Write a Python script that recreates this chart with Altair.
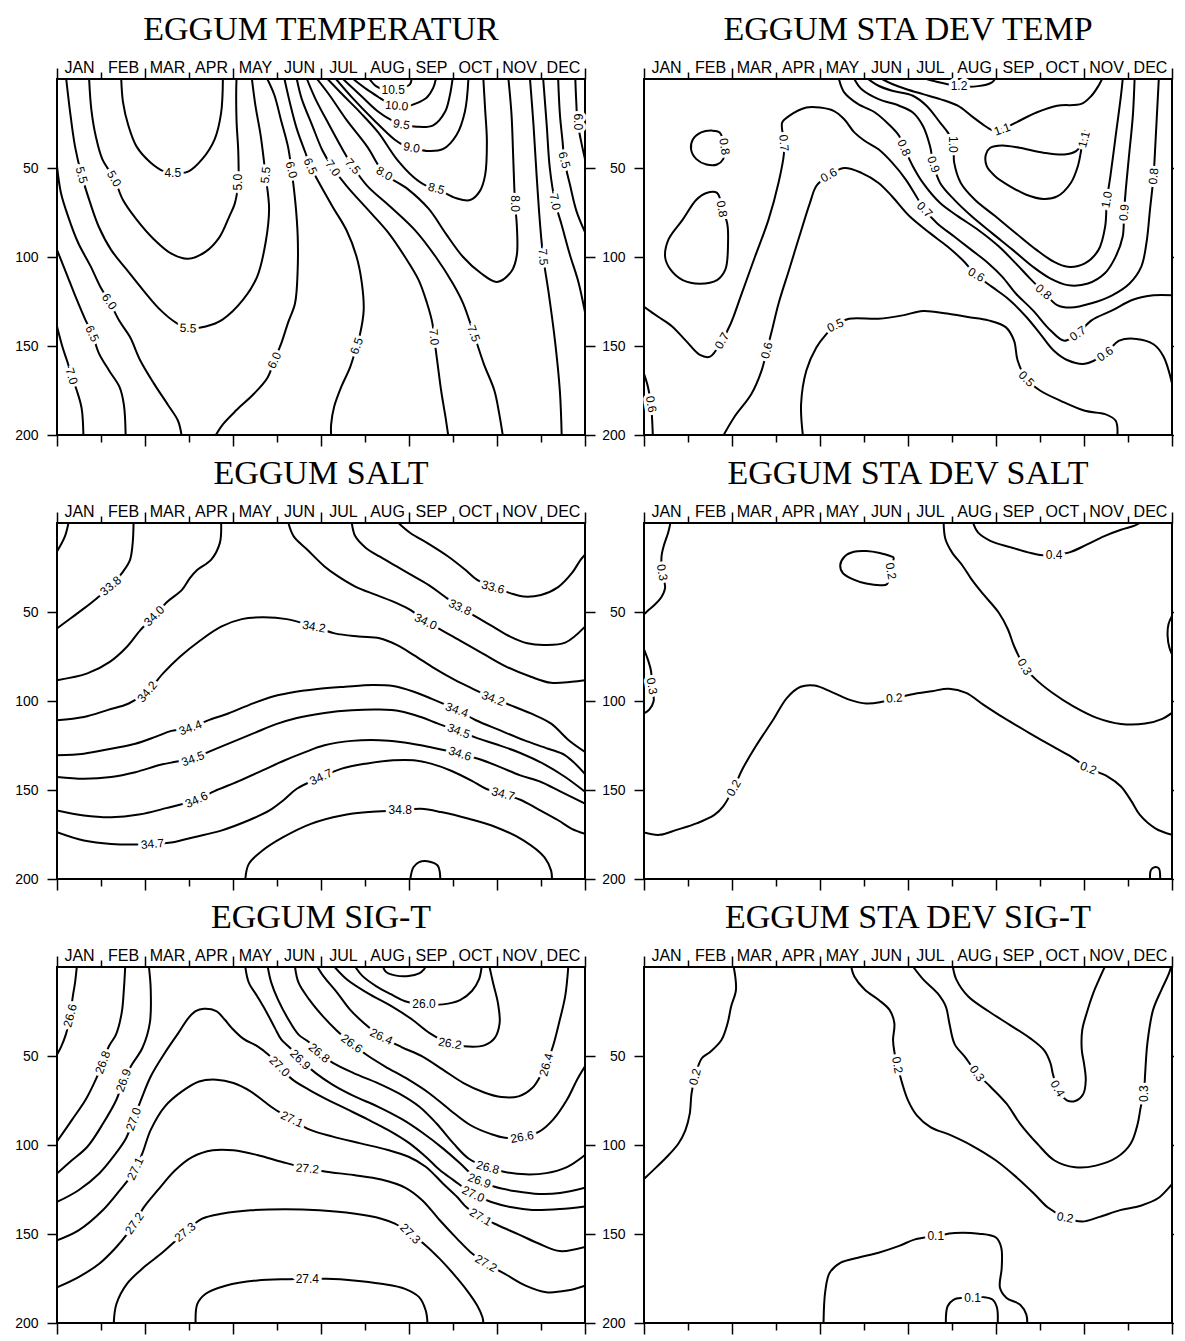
import altair as alt
import pandas as pd

MONTHS = ["JAN", "FEB", "MAR", "APR", "MAY", "JUN", "JUL", "AUG", "SEP", "OCT", "NOV", "DEC"]
DEPTH_TICKS = [50, 100, 150, 200]

# ---------------- EGGUM TEMPERATUR ----------------
TEMP_TITLE = "EGGUM TEMPERATUR"
TEMP_LINES = [
    ("7.0", [(0, 139), (0.13, 151), (0.25, 160), (0.33, 167), (0.45, 175), (0.56, 185), (0.6, 200)]),
    ("6.5", [(0, 96), (0.21, 109), (0.45, 124), (0.64, 135), (0.8, 143), (0.95, 154), (1.19, 164), (1.42, 173), (1.52, 183), (1.56, 200)]),
    ("6.0", [(0, 49), (0.09, 64), (0.25, 77), (0.48, 92), (0.76, 105), (0.99, 117), (1.19, 125), (1.42, 136), (1.66, 145), (1.89, 158), (2.2, 171), (2.52, 183), (2.75, 192), (2.83, 200)]),
    ("5.5", [(0.21, 0), (0.29, 17), (0.41, 38), (0.56, 54), (0.76, 70), (0.95, 83), (1.23, 96), (1.58, 107), (1.97, 119), (2.36, 130), (2.71, 137), (2.98, 140), (3.38, 139), (3.77, 135), (4.23, 124), (4.55, 111), (4.74, 92), (4.82, 73), (4.74, 54), (4.63, 32), (4.51, 15), (4.43, 0)]),
    ("5.0", [(0.73, 0), (0.78, 17), (0.88, 32), (1.03, 45), (1.3, 56), (1.5, 68), (1.81, 79), (2.2, 90), (2.59, 98), (2.98, 101), (3.38, 97), (3.69, 89), (3.92, 77), (4.04, 70), (4.12, 58), (4.12, 41), (4.08, 23), (4.08, 0)]),
    ("4.5", [(1.46, 0), (1.5, 13), (1.62, 26), (1.81, 38), (2.13, 47), (2.44, 52), (2.63, 53), (2.98, 52), (3.3, 45), (3.58, 34), (3.73, 19), (3.77, 0)]),
    ("6.0", [(3.61, 200), (3.77, 194), (4.08, 186), (4.47, 177), (4.78, 168), (4.94, 158), (5.09, 149), (5.25, 137), (5.41, 126), (5.47, 107), (5.47, 88), (5.42, 70), (5.33, 51), (5.25, 38), (5.09, 23), (4.94, 9), (4.78, 0)]),
    ("6.5", [(5.17, 0), (5.29, 13), (5.45, 28), (5.64, 41), (5.76, 49), (5.95, 58), (6.27, 72), (6.58, 85), (6.81, 100), (6.93, 115), (6.97, 130), (6.89, 143), (6.81, 150), (6.66, 162), (6.46, 173), (6.3, 184), (6.23, 194), (6.23, 200)]),
    ("7.0", [(5.45, 0), (5.56, 11), (5.8, 26), (6.03, 40), (6.27, 50), (6.58, 60), (7.05, 73), (7.52, 86), (7.91, 100), (8.22, 113), (8.41, 126), (8.53, 137), (8.57, 145), (8.65, 160), (8.73, 175), (8.83, 190), (8.89, 200)]),
    ("7.5", [(5.68, 0), (5.87, 11), (6.19, 26), (6.5, 40), (6.72, 49), (7.05, 60), (7.59, 72), (8.14, 85), (8.61, 100), (9.0, 115), (9.23, 126), (9.47, 143), (9.7, 160), (9.94, 175), (10.05, 188), (10.13, 200)]),
    ("8.0", [(5.91, 0), (6.19, 9), (6.58, 23), (7.05, 38), (7.44, 53), (7.98, 62), (8.45, 73), (8.84, 87), (9.23, 100), (9.63, 109), (10.0, 114), (10.33, 108), (10.45, 99), (10.45, 82), (10.41, 70), (10.37, 45), (10.33, 20), (10.26, 0)]),
    ("8.5", [(6.15, 0), (6.5, 9), (6.9, 19), (7.3, 30), (7.72, 45), (8.1, 55), (8.4, 60), (8.62, 61.5), (9.08, 67), (9.39, 68), (9.61, 63), (9.73, 54), (9.77, 35), (9.73, 17), (9.69, 0)]),
    ("9.0", [(6.34, 0), (6.73, 11), (7.2, 23), (7.67, 34), (7.9, 37.5), (8.06, 38.5), (8.4, 40.4), (8.78, 39.3), (9.08, 31.5), (9.27, 18.4), (9.35, 0)]),
    ("9.5", [(6.5, 0), (6.89, 9), (7.28, 18), (7.59, 23), (7.83, 25.5), (8.17, 26.8), (8.55, 26), (8.82, 18.4), (8.93, 9), (8.99, 0)]),
    ("10.0", [(6.73, 0), (7.05, 6), (7.36, 11), (7.55, 14), (7.72, 15.5), (7.95, 15.5), (8.11, 14.2), (8.4, 10.5), (8.55, 5), (8.61, 0)]),
    ("10.5", [(7.1, 0), (7.25, 4), (7.45, 6), (7.64, 6.2), (7.85, 5), (8.02, 3), (8.06, 0)]),
    ("7.5", [(10.75, 0), (10.83, 26), (10.9, 54), (10.98, 82), (11.05, 100), (11.17, 119.5), (11.32, 147.6), (11.43, 175.7), (11.47, 200)]),
    ("7.0", [(11.05, 0), (11.13, 26), (11.2, 50), (11.32, 69), (11.47, 82), (11.66, 99), (11.85, 114), (12, 131)]),
    ("6.5", [(11.39, 0), (11.43, 20), (11.49, 35), (11.53, 45.5), (11.66, 59.6), (11.81, 74.5), (12, 86)]),
    ("6.0", [(11.78, 0), (11.8, 12), (11.83, 24), (11.92, 36), (12, 45)]),
]
TEMP_LABELS = [
    ("7.0", 0.33, 167, 72), ("6.5", 0.8, 143, 65), ("6.0", 1.19, 125, 55),
    ("5.5", 0.56, 54, 75), ("5.0", 1.3, 56, 60), ("4.5", 2.63, 53, 0),
    ("5.5", 2.98, 140, 3), ("6.0", 4.94, 158, 295), ("5.0", 4.12, 58, 270),
    ("5.5", 4.74, 54, 275), ("6.0", 5.33, 51, 75), ("6.5", 5.76, 49, 65),
    ("7.0", 6.27, 50, 55), ("7.5", 6.72, 49, 50), ("8.0", 7.44, 53, 30),
    ("8.5", 8.62, 61.5, 15), ("9.0", 8.06, 38.5, 10), ("9.5", 7.83, 25.5, 10),
    ("10.0", 7.72, 15, 5), ("10.5", 7.64, 6, 0), ("6.5", 6.81, 150, 290),
    ("7.0", 8.57, 145, 85), ("7.5", 9.47, 143, 70), ("8.0", 10.41, 70, 90),
    ("7.5", 11.05, 100, 85), ("7.0", 11.32, 69, 78), ("6.5", 11.53, 45.5, 75),
    ("6.0", 11.83, 24, 90),
]

# ---------------- EGGUM STA DEV TEMP ----------------
SDT_TITLE = "EGGUM STA DEV TEMP"
SDT_LINES = [
    ("0.8", [(1.83, 38), (1.8, 45), (1.66, 48), (1.42, 48), (1.19, 45), (1.07, 39.5), (1.11, 34), (1.3, 30), (1.54, 29), (1.72, 30), (1.83, 38)]),
    ("0.8", [(1.77, 73), (1.66, 64), (1.42, 64), (1.19, 67.8), (0.88, 79), (0.56, 90), (0.48, 100), (0.6, 107), (0.88, 113), (1.27, 115), (1.66, 113), (1.85, 107), (1.91, 92), (1.89, 81), (1.77, 73)]),
    ("0.7", [(0, 128), (0.33, 133.7), (0.64, 139), (0.95, 147), (1.27, 155), (1.5, 156), (1.77, 147), (1.97, 137.5), (2.2, 122), (2.52, 100), (2.83, 79), (3.06, 58), (3.18, 42), (3.18, 35), (3.14, 24.5), (3.3, 20.7), (3.69, 16), (4.0, 16), (4.31, 17.9), (4.55, 22.6), (4.78, 30), (5.02, 34.8), (5.33, 39.5), (5.64, 47), (5.95, 56.5), (6.19, 66), (6.38, 73.4), (6.66, 81), (7.05, 88.5), (7.44, 96), (7.83, 103.6), (8.14, 111), (8.45, 120.5), (8.84, 130), (9.23, 141), (9.55, 147), (9.86, 143), (10.17, 135.6), (10.64, 130), (11.11, 124), (11.58, 121.5), (12, 121.5)]),
    ("0.6", [(1.81, 200), (2.05, 190), (2.44, 177), (2.67, 164), (2.79, 152.5), (2.91, 141), (3.06, 126), (3.3, 107), (3.53, 88.5), (3.77, 69.7), (3.92, 60), (4.2, 54), (4.55, 50), (4.94, 52.7), (5.33, 58.4), (5.64, 66), (6.03, 77), (6.5, 86.6), (6.89, 94), (7.24, 101.7), (7.55, 110), (7.91, 116.8), (8.3, 124), (8.69, 133.7), (9.0, 143), (9.31, 152.5), (9.63, 158), (10.02, 160), (10.48, 154.4), (10.8, 147), (11.19, 146), (11.58, 149), (11.81, 156), (12, 171)]),
    ("0.6", [(0, 165.7), (0.09, 173), (0.16, 182.7), (0.19, 194), (0.2, 200)]),
    ("0.5", [(3.61, 200), (3.57, 182.7), (3.69, 163.8), (3.92, 150.7), (4.12, 144), (4.35, 138.4), (4.66, 134.7), (5.33, 134.7), (5.88, 132.8), (6.34, 130.3), (6.89, 131.8), (7.36, 133.7), (7.83, 135.6), (8.22, 139.4), (8.41, 147), (8.49, 158), (8.69, 168.5), (9.0, 175), (9.47, 180.8), (10.02, 186.4), (10.48, 188.3), (10.72, 192), (10.76, 200)]),
    ("0.8", [(4.43, 0), (4.55, 7.5), (4.86, 14), (5.25, 18.8), (5.56, 25.4), (5.8, 32), (5.91, 38.6), (6.11, 49), (6.34, 58.4), (6.73, 69.7), (7.13, 77), (7.59, 84.7), (8.06, 94), (8.45, 103.6), (8.77, 112), (9.08, 119.6), (9.39, 127), (9.7, 128.4), (10.17, 126), (10.64, 121.5), (11.03, 115), (11.3, 105.5), (11.42, 92), (11.5, 73.4), (11.58, 54.6), (11.62, 37.7), (11.66, 18.8), (11.7, 0)]),
    ("0.9", [(4.78, 0), (4.94, 5.6), (5.33, 11.3), (5.8, 15), (6.11, 18.8), (6.34, 26.4), (6.5, 37.7), (6.58, 48), (6.73, 58.4), (7.05, 67.8), (7.44, 77), (7.91, 86.6), (8.38, 96), (8.84, 105.5), (9.23, 112), (9.63, 115.8), (10.09, 114.9), (10.48, 109), (10.72, 99.8), (10.88, 88.5), (10.91, 75), (10.95, 62), (11.03, 41.4), (11.11, 20.7), (11.15, 0)]),
    ("1.0", [(5.09, 0), (5.33, 3.8), (5.64, 6.6), (6.11, 9.4), (6.42, 15), (6.73, 24.5), (6.93, 31), (7.03, 36.7), (7.05, 47), (7.2, 58.4), (7.52, 67.8), (7.98, 77), (8.45, 86.6), (8.92, 96), (9.31, 102.6), (9.63, 105.5), (10.02, 103.6), (10.33, 96), (10.48, 83), (10.52, 67.8), (10.6, 54.6), (10.72, 32), (10.84, 9.4), (10.88, 0)]),
    ("1.1", [(5.41, 0), (5.64, 2.8), (5.95, 5.6), (6.34, 8.5), (6.73, 11.3), (7.13, 15), (7.44, 20.7), (7.75, 26.4), (7.95, 29), (8.14, 28.2), (8.45, 24.5), (8.92, 18.8), (9.39, 15), (9.94, 14), (10.17, 9.4), (10.33, 3.8), (10.41, 0)]),
    ("1.1", [(10.02, 29), (9.94, 39.5), (9.86, 49), (9.7, 58.4), (9.39, 66), (9.08, 67.4), (8.69, 65), (8.3, 60), (7.98, 54.6), (7.79, 49), (7.77, 42.4), (7.87, 38.6), (8.14, 37.3), (8.53, 38.6), (9.08, 41.4), (9.55, 42.4), (9.82, 40.5), (9.98, 34.8), (10.02, 29)]),
    ("1.2", [(6.42, 0), (6.73, 2), (7.16, 4), (7.59, 4), (7.9, 2), (7.98, 0)]),
]
SDT_LABELS = [
    ("0.8", 1.83, 38, 80), ("0.8", 1.77, 73, 80), ("0.7", 1.77, 147, 300),
    ("0.7", 3.18, 36, 85), ("0.6", 4.2, 54, 330), ("0.6", 2.79, 152.5, 285),
    ("0.5", 4.35, 138.4, 335), ("0.8", 5.91, 38.6, 65), ("0.9", 6.58, 48, 70),
    ("1.0", 7.03, 36.7, 90), ("0.7", 6.38, 73.4, 45), ("0.6", 7.55, 110, 30),
    ("1.1", 8.14, 28.2, 340), ("1.2", 7.16, 4, 0), ("1.1", 10.0, 34, 285),
    ("1.0", 10.52, 67.8, 280), ("0.9", 10.91, 75, 275), ("0.8", 11.58, 54.6, 275),
    ("0.8", 9.08, 119.6, 40), ("0.7", 9.86, 143, 325), ("0.6", 10.48, 154.4, 325),
    ("0.5", 8.69, 168.5, 45), ("0.6", 0.16, 182.7, 80),
]

# ---------------- EGGUM SALT ----------------
SALT_TITLE = "EGGUM SALT"
SALT_LINES = [
    ("33.6", [(0.26, 0), (0.18, 7.5), (0, 16)]),
    ("33.8", [(1.74, 0), (1.72, 11.3), (1.66, 20.7), (1.51, 27), (1.22, 35.3), (0.88, 42.8), (0.57, 48.8), (0.26, 54.5), (0, 59.2)]),
    ("34.0", [(3.73, 0), (3.7, 11.3), (3.5, 20.7), (3.19, 26.3), (3.02, 31), (2.84, 37.6), (2.52, 44), (2.21, 52.2), (1.9, 60), (1.59, 69.5), (1.2, 78), (0.69, 84.5), (0, 88.3)]),
    ("34.2", [(0, 110.8), (0.61, 109), (1.16, 105), (1.63, 101.4), (2.05, 94.8), (2.41, 84.5), (2.8, 75), (3.27, 65.7), (3.73, 58.2), (4.2, 54), (4.67, 53), (5.22, 54), (5.84, 58.2), (6.31, 62), (6.86, 63.8), (7.33, 64.8), (7.72, 68.5), (8.11, 74.2), (8.58, 81.7), (9.05, 88.3), (9.44, 93), (9.91, 98.6), (10.3, 102.3), (10.77, 107), (11.23, 112.7), (11.63, 122), (12, 128.6)]),
    ("34.0", [(5.26, 0), (5.38, 7.5), (5.69, 15), (6.08, 24.4), (6.39, 30), (6.78, 35.7), (7.25, 40.4), (7.72, 45), (8.03, 48.8), (8.38, 55.4), (8.73, 60), (9.2, 66.7), (9.67, 73.2), (10.22, 80.8), (10.77, 86.4), (11.23, 89.8), (11.7, 89.2), (12, 88.3)]),
    ("33.8", [(6.7, 0), (6.78, 7.5), (7.02, 14), (7.33, 18.8), (7.72, 24.4), (8.11, 30), (8.5, 35.7), (8.81, 41.3), (9.16, 47.3), (9.52, 52.6), (9.91, 58.2), (10.3, 63.8), (10.69, 67.6), (11.08, 68.5), (11.55, 67.2), (12, 58.2)]),
    ("33.6", [(7.76, 0), (8.03, 5.6), (8.42, 11.3), (8.89, 18.8), (9.28, 26.3), (9.55, 32), (9.91, 36), (10.3, 39.4), (10.61, 41.3), (11.0, 40.4), (11.39, 36), (11.7, 28.2), (11.9, 20.7), (12, 17.8)]),
    ("34.4", [(0, 130.5), (0.61, 129.6), (1.23, 126.8), (1.78, 124), (2.25, 120), (2.6, 116.8), (3.03, 115), (3.42, 111), (3.89, 107), (4.36, 102.3), (4.83, 98), (5.3, 95.4), (5.92, 93.3), (6.55, 92), (7.17, 91), (7.64, 91.6), (8.11, 94.8), (8.5, 98.6), (9.09, 105), (9.52, 110.8), (10.06, 116.4), (10.61, 122), (11.16, 126.8), (11.55, 130.5), (12, 141)]),
    ("34.5", [(0, 142.7), (0.61, 143.7), (1.23, 142.7), (1.78, 140), (2.33, 136), (2.66, 134.3), (3.09, 132.4), (3.5, 128), (4.05, 122.4), (4.52, 117.6), (4.98, 113), (5.45, 109.5), (6.08, 106.7), (6.7, 105.2), (7.33, 104.8), (7.8, 105.7), (8.27, 109), (8.66, 112.7), (9.13, 116.8), (9.52, 120.6), (9.98, 124.3), (10.53, 129.2), (11.08, 135.6), (11.55, 142.7), (12, 151)]),
    ("34.6", [(0, 161.5), (0.61, 164.3), (1.23, 165.3), (1.86, 163.8), (2.48, 160.2), (3.17, 155.5), (3.58, 150.6), (4.13, 145), (4.67, 139), (5.14, 133.7), (5.61, 129), (6.08, 124.9), (6.7, 122.4), (7.33, 122), (7.8, 123), (8.27, 124.9), (8.73, 127.3), (9.16, 129.6), (9.59, 132.6), (10.06, 137), (10.53, 141.8), (11.0, 145.5), (11.47, 151.2), (12, 157.7)]),
    ("34.7", [(0, 173.7), (0.61, 178.4), (1.23, 180.3), (2.17, 180.3), (2.64, 179.3), (3.11, 176.5), (3.73, 172.8), (4.36, 167), (4.83, 161.5), (5.14, 155.9), (5.45, 149.3), (6.0, 142.7), (6.47, 138), (7.02, 135.2), (7.64, 133.3), (8.11, 133.3), (8.5, 135.2), (8.97, 139.3), (9.44, 145), (9.75, 149.3), (10.14, 152.2), (10.53, 155.5), (10.92, 160.6), (11.39, 167), (11.7, 171.8), (12, 174.6)]),
    ("34.8", [(4.28, 200), (4.36, 191.5), (4.67, 184), (5.14, 176.5), (5.77, 169), (6.47, 164.3), (7.09, 162.4), (7.8, 161.5), (8.27, 160.6), (8.73, 162.4), (9.36, 166.2), (9.98, 170.9), (10.61, 178.4), (11.08, 187.8), (11.23, 195.3), (11.25, 200)]),
    ("34.9", [(8.03, 200), (8.1, 193.4), (8.23, 190.5), (8.42, 190), (8.65, 192.4), (8.7, 196.2), (8.71, 200)]),
]
SALT_LABELS = [
    ("33.8", 1.22, 35.3, 320), ("34.0", 2.21, 52.2, 315), ("34.2", 2.05, 94.8, 310),
    ("34.2", 5.84, 58.2, 10), ("34.2", 9.91, 98.6, 20), ("34.0", 8.38, 55.4, 25),
    ("33.8", 9.16, 47.3, 25), ("33.6", 9.91, 36, 15), ("34.4", 3.03, 115, 340),
    ("34.4", 9.09, 105, 20), ("34.5", 3.09, 132.4, 340), ("34.5", 9.13, 116.8, 20),
    ("34.6", 3.17, 155.5, 335), ("34.6", 9.16, 129.6, 18), ("34.7", 6.0, 142.7, 335),
    ("34.7", 2.17, 180.3, 355), ("34.7", 10.14, 152.2, 15), ("34.8", 7.8, 161.5, 0),
]

# ---------------- EGGUM STA DEV SALT ----------------
SDS_TITLE = "EGGUM STA DEV SALT"
SDS_LINES = [
    ("0.3", [(0.6, 0), (0.55, 5.3), (0.45, 12.8), (0.4, 18.4), (0.41, 27.8), (0.48, 36.2), (0.39, 41.9), (0.23, 46.2), (0.08, 49.4), (0, 51.3)]),
    ("0.3", [(0, 71), (0.1, 77.6), (0.16, 83.2), (0.18, 91.6), (0.22, 100), (0.12, 104.8), (0, 107)]),
    ("0.2", [(5.68, 19.3), (5.36, 16.9), (5.05, 15.8), (4.77, 16.2), (4.56, 18.8), (4.46, 23.7), (4.52, 28.2), (4.74, 31.5), (5.05, 34), (5.4, 35), (5.52, 34.4), (5.61, 27), (5.68, 19.3)]),
    ("0.4", [(7.48, 0), (7.59, 5.3), (7.87, 10), (8.34, 13.7), (8.73, 16.5), (9.0, 18), (9.32, 18), (9.67, 16.5), (10.06, 12.2), (10.45, 7.5), (10.84, 3.8), (11.15, 1.5), (11.27, 0)]),
    ("0.3", [(6.81, 0), (6.85, 9), (7.0, 16.5), (7.24, 24), (7.44, 31.5), (7.71, 40), (8.06, 50.3), (8.27, 59.7), (8.41, 69.1), (8.65, 80.8), (8.88, 87.3), (9.28, 95.4), (9.75, 102.9), (10.29, 109.5), (10.84, 112.9), (11.39, 112.7), (11.78, 110), (12, 106.7)]),
    ("0.3", [(12, 52.2), (11.92, 56.9), (11.9, 63.5), (11.94, 70), (12, 73.8)]),
    ("0.2", [(0, 173.9), (0.35, 175.2), (0.74, 172.4), (1.21, 168.6), (1.6, 164), (1.8, 159.2), (2.04, 148.9), (2.23, 138.6), (2.54, 125.4), (2.94, 110.4), (3.25, 98.2), (3.56, 92), (3.88, 91.3), (4.27, 95), (4.66, 99.2), (5.05, 101.4), (5.36, 100.7), (5.69, 98.4), (6.07, 96.3), (6.54, 94.5), (6.93, 93.1), (7.32, 95.4), (7.71, 102), (8.18, 109.5), (8.73, 117.6), (9.28, 125.4), (9.67, 130.7), (10.1, 137.7), (10.53, 142.3), (10.84, 148), (11.08, 156.4), (11.27, 164), (11.62, 171.5), (12, 175.2)]),
    ("0.2", [(11.5, 200), (11.52, 195), (11.6, 193.4), (11.7, 194), (11.73, 200)]),
]
SDS_LABELS = [
    ("0.3", 0.41, 27.8, 80), ("0.3", 0.18, 91.6, 80), ("0.2", 5.61, 27, 80),
    ("0.4", 9.32, 18, 0), ("0.3", 8.65, 80.8, 60), ("0.2", 2.04, 148.9, 300),
    ("0.2", 5.69, 98.4, 355), ("0.2", 10.1, 137.7, 20),
]

# ---------------- EGGUM SIG-T ----------------
SIG_TITLE = "EGGUM SIG-T"
SIG_LINES = [
    ("26.6", [(0.45, 0), (0.41, 8.8), (0.36, 16.4), (0.3, 27.3), (0.2, 38), (0.09, 45), (0, 49.2)]),
    ("26.8", [(1.55, 0), (1.52, 12.6), (1.47, 25.8), (1.34, 38), (1.18, 44.5), (1.04, 53.6), (0.88, 63.3), (0.65, 74.6), (0.34, 85.9), (0, 98)]),
    ("26.9", [(2.09, 0), (2.13, 12.6), (2.11, 31.4), (1.94, 45.5), (1.7, 54.9), (1.51, 63.7), (1.35, 74.6), (1.05, 87.8), (0.69, 101), (0.3, 109.4), (0, 116)]),
    ("27.0", [(0, 132), (0.49, 125.4), (0.96, 116), (1.31, 105.6), (1.57, 96.2), (1.74, 85.5), (1.91, 74.6), (2.13, 61.5), (2.45, 48.3), (2.76, 37), (2.99, 28.6), (3.15, 24.8), (3.34, 23.5), (3.62, 24.8), (3.81, 29.5), (3.97, 34.2), (4.24, 40.4), (4.55, 44.5), (4.8, 49.2), (5.06, 55.8), (5.34, 63), (5.73, 69), (6.12, 74.2), (6.59, 79.9), (7.05, 85.5), (7.52, 91.5), (7.99, 98.7), (8.38, 106.6), (8.7, 114.1), (9.01, 119.7), (9.46, 127.6), (9.87, 132), (10.34, 135), (10.8, 136.5), (11.43, 136), (12, 134.5)]),
    ("26.9", [(4.28, 0), (4.36, 8.8), (4.55, 16.4), (4.75, 24.8), (4.95, 34.2), (5.1, 40.8), (5.3, 45.5), (5.53, 52.1), (5.88, 59.6), (6.27, 66.2), (6.74, 72.4), (7.29, 78.4), (7.84, 85.5), (8.3, 93), (8.77, 101.9), (9.16, 110.3), (9.4, 116), (9.6, 120.1), (9.95, 123.5), (10.43, 126), (10.96, 127.5), (11.43, 127), (12, 124)]),
    ("26.8", [(4.79, 0), (4.87, 8.8), (5.02, 18.2), (5.26, 29.5), (5.49, 38), (5.73, 42.3), (5.96, 48.3), (6.27, 53.9), (6.74, 59.6), (7.29, 65.2), (7.76, 70.9), (8.23, 78.4), (8.62, 87.8), (9.01, 99.1), (9.36, 107.7), (9.79, 112.6), (10.18, 115.2), (10.65, 116.5), (11.12, 115.8), (11.59, 112.4), (12, 105.6)]),
    ("26.6", [(5.41, 0), (5.49, 8.8), (5.73, 18.2), (6.04, 27.6), (6.35, 35.5), (6.7, 43), (7.05, 49.6), (7.45, 55.8), (7.99, 63.3), (8.46, 70.9), (8.93, 80.3), (9.4, 88.9), (9.87, 93.9), (10.18, 95.9), (10.57, 95.5), (10.96, 92.5), (11.27, 85.9), (11.59, 74.6), (11.82, 63.3), (12, 55.8)]),
    ("26.4", [(5.92, 0), (6.05, 5), (6.37, 14.5), (6.66, 23.9), (6.98, 31.6), (7.37, 39.1), (7.84, 45.1), (8.3, 50.2), (8.77, 57.7), (9.24, 65.2), (9.71, 70.5), (10.1, 73.1), (10.49, 72.7), (10.8, 68), (10.98, 61.5), (11.12, 54.9), (11.27, 44.7), (11.41, 31.4), (11.55, 16.4), (11.62, 0)]),
    ("26.2", [(6.31, 0), (6.59, 7), (7.05, 14.5), (7.6, 22), (8.07, 29.5), (8.46, 37), (8.93, 43), (9.36, 44.7), (9.71, 44), (9.95, 39.8), (10.06, 31.4), (10.02, 20.1), (9.91, 8.8), (9.83, 0)]),
    ("26.0", [(6.78, 0), (6.94, 5), (7.25, 10.7), (7.6, 15.4), (7.91, 19.2), (8.34, 21), (8.77, 21), (9.16, 18.6), (9.43, 13.5), (9.59, 7), (9.65, 0)]),
    ("25.8", [(7.41, 0), (7.48, 2.8), (7.68, 4.7), (7.99, 5.1), (8.23, 3.6), (8.34, 1.3), (8.37, 0)]),
    ("27.1", [(0, 153.6), (0.49, 148), (1.04, 136.7), (1.43, 125.4), (1.66, 118.2), (1.78, 113.3), (1.94, 104.7), (2.13, 91.5), (2.45, 78.4), (2.84, 69.9), (3.23, 64.3), (3.62, 63.3), (4.01, 65.2), (4.4, 69.9), (4.71, 75.6), (4.95, 79.9), (5.34, 85.5), (5.73, 91.2), (6.27, 95.3), (6.9, 99.1), (7.52, 102.8), (7.99, 106.6), (8.38, 112.2), (8.77, 121.6), (9.09, 129.1), (9.32, 135.3), (9.63, 140.4), (10.02, 145.1), (10.49, 150.2), (10.96, 155.5), (11.43, 159.6), (12, 157.3)]),
    ("27.2", [(0, 180), (0.49, 174.2), (0.96, 166.7), (1.35, 157.3), (1.6, 149.8), (1.76, 144), (1.98, 134.8), (2.29, 125.4), (2.68, 114.3), (3.07, 106.8), (3.54, 103), (4.01, 103), (4.55, 105.6), (5.1, 109.4), (5.69, 113.2), (6.12, 115), (6.74, 116.9), (7.37, 119.4), (7.91, 123.9), (8.3, 131), (8.7, 142.3), (9.09, 152.6), (9.4, 160.2), (9.75, 166.5), (10.18, 172.4), (10.65, 179), (11.12, 182.7), (11.59, 181.8), (12, 179)]),
    ("27.3", [(1.29, 200), (1.35, 189.3), (1.59, 178), (1.98, 168.6), (2.37, 161), (2.62, 155.5), (2.91, 148.9), (3.3, 141.4), (3.77, 138.5), (4.4, 136.7), (5.18, 136.1), (5.96, 136.7), (6.74, 138.5), (7.37, 141.4), (7.68, 144.2), (8.03, 149.8), (8.38, 156.4), (8.7, 164), (9.01, 172.4), (9.32, 181.8), (9.55, 190.2), (9.67, 196.8), (9.69, 200)]),
    ("27.4", [(3.15, 200), (3.19, 189.3), (3.38, 183.6), (3.85, 178.9), (4.55, 176.1), (5.26, 175.4), (5.69, 175.2), (6.12, 175.2), (6.74, 176.1), (7.37, 178), (7.91, 180.8), (8.23, 185.5), (8.38, 193), (8.42, 200)]),
]
SIG_LABELS = [
    ("26.6", 0.3, 27.3, 285), ("26.8", 1.04, 53.6, 290), ("26.9", 1.51, 63.7, 290),
    ("27.0", 1.74, 85.5, 290), ("27.1", 1.78, 113.3, 295), ("27.2", 1.76, 144, 305),
    ("27.3", 2.91, 148.9, 320), ("27.4", 5.69, 175.2, 0), ("27.0", 5.06, 55.8, 45),
    ("26.9", 5.53, 52.1, 45), ("26.8", 5.96, 48.3, 40), ("26.6", 6.7, 43, 35),
    ("26.4", 7.37, 39.1, 25), ("26.0", 8.34, 21, 0), ("26.2", 8.93, 43, 10),
    ("26.4", 11.12, 54.9, 285), ("27.1", 5.34, 85.5, 25), ("27.2", 5.69, 113.2, 5),
    ("26.6", 10.57, 95.5, 350), ("26.8", 9.79, 112.6, 15), ("26.9", 9.6, 120.1, 20),
    ("27.0", 9.46, 127.6, 25), ("27.1", 9.63, 140.4, 30), ("27.2", 9.75, 166.5, 30),
    ("27.3", 8.03, 149.8, 45),
]

# ---------------- EGGUM STA DEV SIG-T ----------------
SDG_TITLE = "EGGUM STA DEV SIG-T"
SDG_LINES = [
    ("0.2", [(2.04, 0), (2.09, 12.8), (1.98, 22.2), (1.9, 31.6), (1.76, 41), (1.51, 47.6), (1.31, 51.4), (1.16, 61.7), (1.08, 71.1), (1.04, 82.4), (0.94, 91.8), (0.78, 99.3), (0.51, 106.9), (0.2, 114.4), (0, 119.1)]),
    ("0.2", [(4.71, 0), (4.78, 5.3), (5.02, 12.8), (5.33, 18.4), (5.58, 24.1), (5.69, 31.6), (5.66, 41), (5.69, 47.6), (5.76, 55.1), (5.87, 65.5), (6.0, 74.9), (6.2, 83.3), (6.51, 89.9), (6.98, 94.6), (7.45, 100.3), (8.0, 108.7), (8.47, 118.2), (8.86, 127.2), (9.18, 135.1), (9.57, 140.7), (9.96, 143), (10.35, 140.4), (10.82, 136.6), (11.29, 134.1), (11.69, 129.8), (12, 121.9)]),
    ("0.3", [(6.12, 0), (6.35, 7.1), (6.67, 14.7), (6.86, 22.2), (6.94, 31.6), (7.06, 43.3), (7.29, 50.4), (7.57, 59.8), (7.88, 67.4), (8.24, 76.8), (8.55, 88.1), (8.94, 99.3), (9.33, 108.7), (9.8, 112.5), (10.27, 111.6), (10.75, 106.9), (11.06, 99.3), (11.22, 88.1), (11.29, 78.6), (11.36, 71.1), (11.39, 59.8), (11.44, 42.9), (11.57, 24.1), (11.76, 12.8), (11.92, 4.3), (11.98, 0)]),
    ("0.4", [(7.02, 0), (7.1, 7.1), (7.37, 16.6), (7.84, 25), (8.31, 32.5), (8.78, 40.1), (9.1, 47), (9.24, 54.2), (9.29, 59.8), (9.4, 68.3), (9.61, 74.9), (9.8, 75.3), (9.98, 71.5), (10.04, 63.6), (10.0, 54.2), (9.95, 46.7), (9.96, 35.4), (10.06, 26), (10.21, 14.7), (10.34, 7.1), (10.47, 0)]),
    ("0.1", [(4.08, 200), (4.12, 182.1), (4.22, 171.8), (4.47, 166.1), (4.86, 163.3), (5.33, 160.5), (5.8, 156.7), (6.16, 153), (6.63, 151.1), (7.06, 149.4), (7.61, 149.8), (8.0, 152), (8.12, 157.7), (8.13, 169), (8.09, 180.2), (8.24, 185.9), (8.55, 189.7), (8.69, 195.3), (8.71, 200)]),
    ("0.1", [(6.86, 200), (6.9, 190.6), (7.04, 186.8), (7.23, 185.9), (7.47, 185.9), (7.73, 185.5), (7.92, 186.8), (8.02, 191.2), (8.04, 200)]),
]
SDG_LABELS = [
    ("0.2", 1.16, 61.7, 285), ("0.2", 5.76, 55.1, 80), ("0.2", 9.57, 140.7, 10),
    ("0.3", 7.57, 59.8, 55), ("0.3", 11.36, 71.1, 270), ("0.4", 9.4, 68.3, 60),
    ("0.1", 6.63, 151.1, 0), ("0.1", 7.47, 185.9, 0),
]

# ---------------- chart construction ----------------
PW, PH = 528, 356
SANS = "Liberation Sans"
SERIF = "Liberation Serif"


def lines_frame(lines):
    rows = []
    for k, (lev, pts) in enumerate(lines):
        for i, (m, d) in enumerate(pts):
            rows.append({"cid": k, "lev": lev, "i": i, "m": m, "d": d})
    return pd.DataFrame(rows)


def labels_frame(labels):
    return pd.DataFrame(labels, columns=["t", "m", "d", "a"])


def xs():
    return alt.Scale(domain=[0, 12], nice=False, zero=False)


def ys():
    return alt.Scale(domain=[0, 200], reverse=True, nice=False, zero=False)


month_expr = "[" + ",".join("'%s'" % m for m in MONTHS) + "][floor(datum.value)]"


def x_axis(orient, values, tick, labels=False):
    kw = dict(orient=orient, values=values, grid=False, domain=False, title=None,
              labelFlush=False, labelOverlap=False)
    if labels:
        kw.update(labels=True, ticks=False, labelExpr=month_expr, labelFont=SANS,
                  labelFontSize=16, labelPadding=4, labelColor="black")
    else:
        kw.update(labels=False, ticks=True, tickSize=tick, tickColor="black", tickWidth=1.5)
    return alt.Axis(**kw)


def panel(title, lines, labels):
    ld = lines_frame(lines)
    td = labels_frame(labels)
    majors = [0, 2, 4, 6, 8, 10, 12]
    minors = [1, 3, 5, 7, 9, 11]
    centers = [i + 0.5 for i in range(12)]
    yleft = alt.Axis(orient="left", values=DEPTH_TICKS, grid=False, domain=False, title=None,
                     labelFont=SANS, labelFontSize=14, labelPadding=9, labelColor="black",
                     labelFlush=False, tickSize=10, tickColor="black", tickWidth=1.5,
                     minExtent=43, maxExtent=43)
    yright = alt.Axis(orient="right", values=DEPTH_TICKS, grid=False, domain=False, title=None,
                      labels=False, tickSize=10, tickColor="black", tickWidth=1.5,
                      minExtent=10, maxExtent=10)

    line_layer = alt.Chart(ld).mark_line(
        color="black", strokeWidth=2, interpolate="catmull-rom", clip=True
    ).encode(
        x=alt.X("m:Q", scale=xs(), axis=x_axis("top", centers, 0, labels=True)),
        y=alt.Y("d:Q", scale=ys(), axis=yleft),
        detail="cid:N",
        order="i:Q",
    )
    halo = alt.Chart(td).mark_text(
        font=SANS, fontSize=12, fill="white", stroke="white", strokeWidth=6
    ).encode(
        x=alt.X("m:Q", scale=xs(), axis=x_axis("top", majors, 11)),
        y=alt.Y("d:Q", scale=ys(), axis=yright),
        text="t:N",
        angle=alt.Angle("a:Q", scale=None),
    )
    txt = alt.Chart(td).mark_text(font=SANS, fontSize=12, fill="black").encode(
        x=alt.X("m:Q", scale=xs(), axis=x_axis("top", minors, 7)),
        y=alt.Y("d:Q", scale=ys(), axis=None),
        text="t:N",
        angle=alt.Angle("a:Q", scale=None),
    )
    d1 = alt.Chart(td).mark_point(opacity=0).encode(
        x=alt.X("m:Q", scale=xs(), axis=x_axis("bottom", majors, 11)),
        y=alt.Y("d:Q", scale=ys(), axis=None),
    )
    d2 = alt.Chart(td).mark_point(opacity=0).encode(
        x=alt.X("m:Q", scale=xs(), axis=x_axis("bottom", minors, 7)),
        y=alt.Y("d:Q", scale=ys(), axis=None),
    )
    return alt.layer(line_layer, halo, txt, d1, d2).resolve_axis(
        x="independent", y="independent"
    ).properties(
        width=PW, height=PH,
        title=alt.TitleParams(text=title, font=SERIF, fontSize=34, fontWeight="normal",
                              anchor="middle", frame="group", offset=12, color="black"),
    )


row1 = alt.hconcat(panel(TEMP_TITLE, TEMP_LINES, TEMP_LABELS),
                   panel(SDT_TITLE, SDT_LINES, SDT_LABELS), spacing=3)
row2 = alt.hconcat(panel(SALT_TITLE, SALT_LINES, SALT_LABELS),
                   panel(SDS_TITLE, SDS_LINES, SDS_LABELS), spacing=3)
row3 = alt.hconcat(panel(SIG_TITLE, SIG_LINES, SIG_LABELS),
                   panel(SDG_TITLE, SDG_LINES, SDG_LABELS), spacing=3)

chart = alt.vconcat(row1, row2, row3, spacing=8).properties(
    padding={"left": 5, "top": 4, "right": -10, "bottom": 0},
    background="white",
).configure_view(stroke="black", strokeWidth=2)

chart.save("out.html", embed_options={"renderer": "svg", "actions": False})
